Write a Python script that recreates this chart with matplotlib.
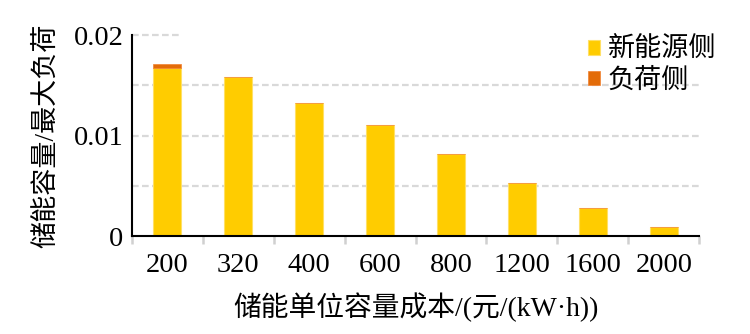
import matplotlib
matplotlib.use("Agg")
import matplotlib.pyplot as plt
import numpy as np

plt.rcParams['font.family'] = ['Liberation Serif', 'Noto Sans CJK SC']

categories = ['200', '320', '400', '600', '800', '1200', '1600', '2000']
new_energy = [0.0167, 0.0158, 0.0132, 0.0110, 0.0082, 0.0053, 0.0028, 0.0009]
load_side = [0.0004, 0, 0, 0, 0, 0, 0, 0]

fig = plt.figure(figsize=(7.5, 3.34), dpi=100)
ax = fig.add_axes([0.1755, 0.2934, 0.757, 0.6016])

x = np.arange(len(categories))
grid_color = '#d9d9d9'
for yv in [0.005, 0.01, 0.015]:
    ax.axhline(yv, color=grid_color, lw=1.6, ls=(0, (3, 1.5)), zorder=0)
ax.plot([-0.5, 0.2], [0.02, 0.02], color=grid_color, lw=1.6, ls=(0, (3, 1.5)), zorder=0, clip_on=False)

ax.bar(x, new_energy, width=0.4, color='#FFCC00', edgecolor='#FFE066', lw=0.8, label='新能源侧', zorder=2)
ax.bar(x, load_side, width=0.4, bottom=new_energy, color='#E36C09', edgecolor='#F08030', lw=0.5, label='负荷侧', zorder=2)

ax.set_xlim(-0.5, len(categories) - 0.5)
ax.set_ylim(0, 0.02)
ax.set_yticks([0, 0.01, 0.02])
ax.set_yticklabels(['0', '0.01', '0.02'])
ax.set_xticks(x)
ax.set_xticklabels(categories)
ax.set_xticks(np.arange(-0.5, len(categories)), minor=True)
ax.tick_params(axis='x', which='major', length=0, pad=12, labelsize=20.5)
ax.tick_params(axis='x', which='minor', length=6, width=1.8, color='#d0d0d0', direction='out')
ax.tick_params(axis='y', length=0, pad=6, labelsize=20.5)

for s in ['top', 'right']:
    ax.spines[s].set_visible(False)
ax.spines['left'].set_linewidth(1.5)
ax.spines['bottom'].set_linewidth(1.5)

ax.set_xlabel('储能单位容量成本/(元/(kW·h))', fontsize=20, labelpad=11)
ax.set_ylabel('储能容量/最大负荷', fontsize=19.5, labelpad=10)

leg = ax.legend(loc='upper right', frameon=False, fontsize=19.5, handlelength=0.45, handleheight=0.45,
                handletextpad=0.3, labelspacing=0.2, borderaxespad=0.0, borderpad=0.0,
                bbox_to_anchor=(1.03, 0.985))

fig.savefig('out.png', dpi=100)
